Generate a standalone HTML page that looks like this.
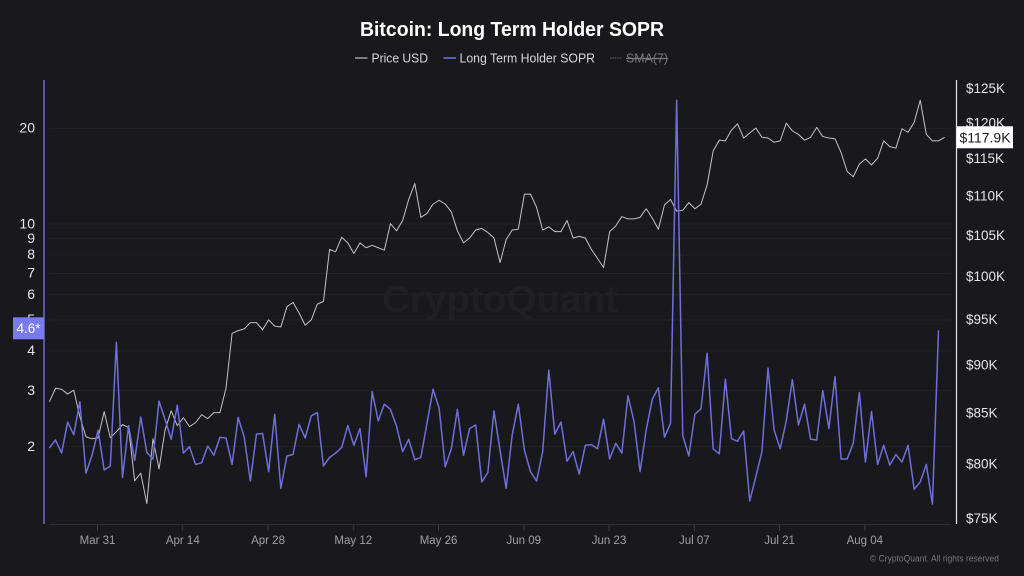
<!DOCTYPE html>
<html>
<head>
<meta charset="utf-8">
<title>Bitcoin: Long Term Holder SOPR</title>
<style>
html,body{margin:0;padding:0;background:#18181d;}
svg{display:block;font-family:"Liberation Sans",sans-serif;}
</style>
</head>
<body>
<svg id="chart" width="1024" height="576" viewBox="0 0 1024 576" xmlns="http://www.w3.org/2000/svg">
  <rect x="0" y="0" width="1024" height="576" fill="#18181d"/>
  <text x="500" y="312" text-anchor="middle" font-size="38" font-weight="700" fill="#1f1f24" textLength="236" lengthAdjust="spacingAndGlyphs">CryptoQuant</text>
  <g id="grid"></g>
  <g id="marks"></g>
  <line x1="49" y1="524.5" x2="951" y2="524.5" stroke="#303036" stroke-width="1"/>
  <g id="xticks"></g>
  <line x1="44" y1="80" x2="44" y2="524" stroke="#6a6ad2" stroke-width="1.5"/>
  <line x1="956.5" y1="80" x2="956.5" y2="524" stroke="#e4e4e4" stroke-width="1.2"/>
  <g id="lticks"></g>
  <g id="rticks"></g>
  <g id="badges"></g>

  <text x="512" y="36" text-anchor="middle" font-size="20" font-weight="700" fill="#ffffff" textLength="304" lengthAdjust="spacingAndGlyphs">Bitcoin: Long Term Holder SOPR</text>

  <g>
    <line x1="355" y1="58" x2="367.5" y2="58" stroke="#a8a8a8" stroke-width="1.4"/>
    <text x="371.5" y="62.5" font-size="13" fill="#d8d8da" textLength="56.5" lengthAdjust="spacingAndGlyphs">Price USD</text>
  </g>
  <g>
    <line x1="443.5" y1="58" x2="456" y2="58" stroke="#6f6fdc" stroke-width="1.6"/>
    <text x="459.5" y="62.5" font-size="13" fill="#d8d8da" textLength="135.5" lengthAdjust="spacingAndGlyphs">Long Term Holder SOPR</text>
  </g>
  <g>
    <line x1="610" y1="58" x2="622" y2="58" stroke="#55555b" stroke-width="1.2" stroke-dasharray="1.5 0.8"/>
    <text x="626" y="62.5" font-size="13" fill="#77777d" text-decoration="line-through" textLength="42" lengthAdjust="spacingAndGlyphs">SMA(7)</text>
  </g>

  <text x="999" y="561.5" text-anchor="end" font-size="9.5" fill="#77777c" textLength="129" lengthAdjust="spacingAndGlyphs">© CryptoQuant. All rights reserved</text>
</svg>
<script>
const categories = [
"Mar 23","Mar 24","Mar 25","Mar 26","Mar 27","Mar 28","Mar 29","Mar 30","Mar 31",
"Apr 01","Apr 02","Apr 03","Apr 04","Apr 05","Apr 06","Apr 07","Apr 08","Apr 09","Apr 10","Apr 11","Apr 12","Apr 13","Apr 14","Apr 15","Apr 16","Apr 17","Apr 18","Apr 19","Apr 20","Apr 21","Apr 22","Apr 23","Apr 24","Apr 25","Apr 26","Apr 27","Apr 28","Apr 29","Apr 30",
"May 01","May 02","May 03","May 04","May 05","May 06","May 07","May 08","May 09","May 10","May 11","May 12","May 13","May 14","May 15","May 16","May 17","May 18","May 19","May 20","May 21","May 22","May 23","May 24","May 25","May 26","May 27","May 28","May 29","May 30","May 31",
"Jun 01","Jun 02","Jun 03","Jun 04","Jun 05","Jun 06","Jun 07","Jun 08","Jun 09","Jun 10","Jun 11","Jun 12","Jun 13","Jun 14","Jun 15","Jun 16","Jun 17","Jun 18","Jun 19","Jun 20","Jun 21","Jun 22","Jun 23","Jun 24","Jun 25","Jun 26","Jun 27","Jun 28","Jun 29","Jun 30",
"Jul 01","Jul 02","Jul 03","Jul 04","Jul 05","Jul 06","Jul 07","Jul 08","Jul 09","Jul 10","Jul 11","Jul 12","Jul 13","Jul 14","Jul 15","Jul 16","Jul 17","Jul 18","Jul 19","Jul 20","Jul 21","Jul 22","Jul 23","Jul 24","Jul 25","Jul 26","Jul 27","Jul 28","Jul 29","Jul 30","Jul 31",
"Aug 01","Aug 02","Aug 03","Aug 04","Aug 05","Aug 06","Aug 07","Aug 08","Aug 09","Aug 10","Aug 11","Aug 12","Aug 13","Aug 14","Aug 15","Aug 16","Aug 17"
];
const priceUsdK = [
86.1,87.5,87.4,86.9,87.3,84.6,82.6,82.4,82.5,85.1,
82.5,83.1,83.8,83.5,78.4,79.1,76.3,82.4,79.5,83.3,
85.2,83.7,84.5,83.6,84.0,84.8,84.4,85.0,85.0,87.5,
93.4,93.7,93.9,94.6,94.6,93.8,94.9,94.2,94.1,96.4,
96.9,95.7,94.3,94.9,96.7,97.0,103.2,102.9,104.7,104.0,
102.7,104.0,103.4,103.7,103.4,103.1,106.4,105.5,106.8,109.5,
111.6,107.2,107.7,108.9,109.4,108.9,107.9,105.5,104.0,104.6,
105.6,105.8,105.3,104.6,101.6,104.4,105.6,105.7,110.2,110.2,
108.5,105.6,106.0,105.4,105.4,106.8,104.6,104.8,104.6,103.2,
102.1,101.0,105.4,106.1,107.3,107.0,107.0,107.2,108.3,107.1,
105.7,108.8,109.5,108.0,108.1,109.1,108.3,108.9,111.4,116.0,
117.5,117.4,118.9,119.8,117.8,118.5,119.2,117.9,117.8,117.2,
117.4,119.9,118.8,118.3,117.5,117.9,119.3,118.0,117.8,117.7,
115.8,113.2,112.5,114.2,114.9,114.1,115.0,117.4,116.6,116.4,
119.1,118.6,120.0,123.2,118.3,117.4,117.4,117.9
];
const soprValues = [
1.98,2.10,1.91,2.39,2.18,2.77,1.65,1.88,2.25,1.69,
1.74,4.25,1.60,2.33,1.81,2.48,1.92,1.83,2.78,2.43,
2.11,2.70,1.91,2.00,1.76,1.78,2.01,1.88,2.14,2.13,
1.76,2.47,2.14,1.56,2.19,2.20,1.67,2.53,1.48,1.87,
1.89,2.35,2.13,2.50,2.56,1.74,1.85,1.91,1.99,2.33,
2.02,2.28,1.61,2.98,2.41,2.72,2.62,2.32,1.93,2.11,
1.82,1.85,2.37,3.03,2.64,1.73,1.97,2.62,1.88,2.28,
2.34,1.55,1.66,2.59,1.95,1.48,2.18,2.72,1.95,1.67,
1.56,1.93,3.48,2.19,2.39,1.80,1.93,1.64,2.02,2.03,
1.97,2.44,1.83,2.05,1.91,2.89,2.40,1.67,2.26,2.82,
3.06,2.14,2.37,24.5,2.17,1.87,2.53,2.63,3.93,1.97,
1.90,3.26,2.12,2.08,2.24,1.35,1.61,1.93,3.53,2.26,
1.97,2.41,3.25,2.34,2.72,2.11,2.10,3.00,2.28,3.32,
1.83,1.83,2.05,2.96,1.79,2.58,1.76,2.02,1.75,1.89,
1.79,2.02,1.47,1.55,1.76,1.32,4.64
];
const xTickLabels = ["Mar 31","Apr 14","Apr 28","May 12","May 26","Jun 09","Jun 23","Jul 07","Jul 21","Aug 04"];
const leftTicks = [2,3,4,5,6,7,8,9,10,20];
const rightTicks = [75,80,85,90,95,100,105,110,115,120,125];

const NS = "http://www.w3.org/2000/svg";
function mk(tag, attrs, parent, txt) {
  const el = document.createElementNS(NS, tag);
  for (const k in attrs) el.setAttribute(k, attrs[k]);
  if (txt !== undefined) el.textContent = txt;
  parent.appendChild(el);
  return el;
}
function xScale(i) { return 49.4 + i * (944.6 - 49.4) / (categories.length - 1); }
function yLeft(v) { return 446.7 - 318.4 * Math.log10(v / 2); }
function yRight(k) { return 518 - 1938 * Math.log10(k / 75); }
function pathFrom(values, yFn) {
  return values.map((v, i) => (i ? "L" : "M") + xScale(i).toFixed(2) + " " + yFn(v).toFixed(2)).join("");
}

const grid = document.getElementById("grid");
const lticks = document.getElementById("lticks");
const rticks = document.getElementById("rticks");
const xticks = document.getElementById("xticks");
const marks = document.getElementById("marks");
const badges = document.getElementById("badges");

leftTicks.forEach(function (t) {
  const g = mk("line", { x1: 49, x2: 951, y1: yLeft(t), y2: yLeft(t), stroke: "#222228", "stroke-width": 1 }, grid);
  
  
  const l = mk("text", { x: 35, y: yLeft(t) + 4.2, "text-anchor": "end", "font-size": 14, fill: "#e6e6e8" }, lticks, String(t));
  
  
});

rightTicks.forEach(function (t) {
  const l = mk("text", { x: 966, y: yRight(t) + 5, "font-size": 13.5, fill: "#e6e6e8" }, rticks, "$" + t + "K");
  
  
});

xTickLabels.forEach(function (lab) {
  const x = xScale(categories.indexOf(lab)) - 0.6;
  const t = mk("line", { x1: x, x2: x, y1: 525, y2: 531, stroke: "#3a3a40", "stroke-width": 1 }, xticks);
  
  
  const l = mk("text", { x: x, y: 544, "text-anchor": "middle", "font-size": 11.5, fill: "#a0a0a4" }, xticks, lab);
  
  
});

const priceLine = mk("path", { d: pathFrom(priceUsdK, yRight), fill: "none", stroke: "#c4c4c4", "stroke-width": 1, "stroke-linejoin": "round" }, marks);


const soprLine = mk("path", { d: pathFrom(soprValues, yLeft), fill: "none", stroke: "#6f6fdc", "stroke-width": 1.5, "stroke-linejoin": "round" }, marks);



const lastSopr = soprValues[soprValues.length - 1];
const lastPrice = priceUsdK[priceUsdK.length - 1];
const soprCy = yLeft(lastSopr) - 2;
const priceCy = yRight(lastPrice);
const sb = mk("rect", { x: 13, y: soprCy - 11, width: 31, height: 22, fill: "#7a7af0" }, badges);


const st = mk("text", { x: 28.5, y: soprCy + 4.5, "text-anchor": "middle", "font-size": 13.5, fill: "#ffffff" }, badges, lastSopr.toFixed(1) + "*");


const pb = mk("rect", { x: 957, y: priceCy - 11, width: 56, height: 22, fill: "#ffffff" }, badges);


const pt = mk("text", { x: 985, y: priceCy + 5, "text-anchor": "middle", "font-size": 14, fill: "#18181d" }, badges, "$" + lastPrice.toFixed(1) + "K");


</script>
</body>
</html>
